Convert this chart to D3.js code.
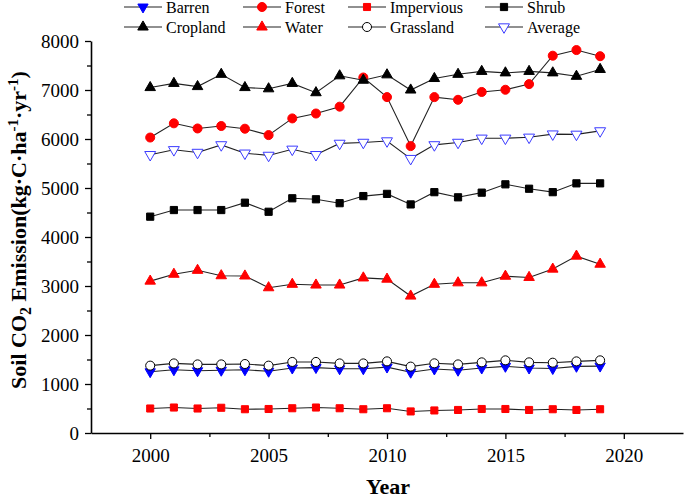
<!DOCTYPE html>
<html>
<head>
<meta charset="utf-8">
<script src="https://cdn.jsdelivr.net/npm/d3@7"></script>
<style>
  body { margin: 0; background: #fff; }
  svg text { font-family: "Liberation Serif", "Times New Roman", serif; }
</style>
</head>
<body>
<div id="container"></div>
<script>
// Data
const years = d3.range(2000, 2020);
const barren     = [1250, 1290, 1270, 1280, 1290, 1260, 1325, 1335, 1310, 1310, 1345, 1240, 1305, 1280, 1325, 1360, 1325, 1315, 1360, 1365];
const forest     = [6030, 6320, 6215, 6265, 6210, 6080, 6420, 6520, 6660, 7255, 6855, 5855, 6855, 6800, 6960, 7005, 7120, 7700, 7815, 7690];
const impervious = [500, 520, 500, 515, 485, 490, 505, 520, 505, 485, 505, 440, 460, 470, 490, 490, 470, 485, 470, 485];
const shrub      = [4415, 4550, 4550, 4550, 4700, 4515, 4790, 4770, 4690, 4835, 4880, 4665, 4915, 4810, 4905, 5075, 4985, 4915, 5095, 5095];
const cropland   = [7050, 7135, 7070, 7320, 7050, 7025, 7135, 6945, 7290, 7200, 7310, 7000, 7235, 7320, 7380, 7350, 7380, 7350, 7280, 7420];
const water      = [3100, 3240, 3320, 3210, 3205, 2965, 3035, 3020, 3020, 3165, 3140, 2795, 3035, 3065, 3065, 3200, 3175, 3345, 3610, 3445];
const grassland  = [1375, 1420, 1400, 1400, 1408, 1375, 1450, 1450, 1420, 1420, 1462, 1355, 1422, 1400, 1442, 1483, 1442, 1435, 1462, 1483];
const average    = [5680, 5780, 5725, 5880, 5710, 5665, 5790, 5680, 5910, 5930, 5960, 5600, 5880, 5930, 6015, 6015, 6035, 6100, 6095, 6165];

const seriesNames = ["Barren", "Forest", "Impervious", "Shrub", "Cropland", "Water", "Grassland", "Average"];
const seriesValues = [barren, forest, impervious, shrub, cropland, water, grassland, average];
const xTicks = [2000, 2005, 2010, 2015, 2020];
const yTicks = [0, 1000, 2000, 3000, 4000, 5000, 6000, 7000, 8000];

const FONT = "Liberation Serif, Times New Roman, serif";

// marker styles per series
const styles = {
    Barren:     { type: d3.symbolTriangle, rot: 180, fill: "#0000ff", stroke: "#0000ff", size: 46 },
    Forest:     { type: d3.symbolCircle, rot: 0, fill: "#ff0000", stroke: "#ff0000", size: 64 },
    Impervious: { type: d3.symbolSquare, rot: 0, fill: "#ff0000", stroke: "#ff0000", size: 50 },
    Shrub:      { type: d3.symbolSquare, rot: 0, fill: "#000000", stroke: "#000000", size: 52 },
    Cropland:   { type: d3.symbolTriangle, rot: 0, fill: "#000000", stroke: "#000000", size: 48 },
    Water:      { type: d3.symbolTriangle, rot: 0, fill: "#ff0000", stroke: "#ff0000", size: 48 },
    Grassland:  { type: d3.symbolCircle, rot: 0, fill: "#ffffff", stroke: "#000000", size: 64 },
    Average:    { type: d3.symbolTriangle, rot: 180, fill: "#ffffff", stroke: "#3b3bff", size: 52 }
};

const width = 685;
const height = 498;

const svg = d3.select("#container").append("svg")
    .attr("width", width)
    .attr("height", height)
    .attr("font-family", FONT);

const x = d3.scaleLinear().domain([1997.5, 2022.5]).range([91, 683]);
const y = d3.scaleLinear().domain([0, 8000]).range([433, 41]);

// minor ticks
svg.append("g")
    .attr("transform", "translate(91,0)")
    .call(d3.axisLeft(y).tickValues(d3.range(500, 8000, 1000)).tickSize(4).tickFormat(""))
    .call(g => g.select(".domain").remove())
    .selectAll("line").attr("stroke", "#000").attr("stroke-width", 1.3);

svg.append("g")
    .attr("transform", "translate(0,433)")
    .call(d3.axisBottom(x).tickValues([2002.5, 2007.5, 2012.5, 2017.5]).tickSize(4).tickFormat(""))
    .call(g => g.select(".domain").remove())
    .selectAll("line").attr("stroke", "#000").attr("stroke-width", 1.3);

// major axes
const yAxis = svg.append("g")
    .attr("transform", "translate(91,0)")
    .call(d3.axisLeft(y).tickValues(yTicks).tickFormat(d3.format("d")).tickSize(6).tickSizeOuter(0).tickPadding(6));

const xAxis = svg.append("g")
    .attr("transform", "translate(0,433)")
    .call(d3.axisBottom(x).tickValues(xTicks).tickFormat(d3.format("d")).tickSize(6).tickSizeOuter(0).tickPadding(10));

[yAxis, xAxis].forEach(a => {
    a.attr("font-family", FONT).attr("font-size", 19);
    a.select(".domain").attr("stroke", "#000").attr("stroke-width", 1.6);
    a.selectAll("line").attr("stroke", "#000").attr("stroke-width", 1.3);
    a.selectAll("text").attr("fill", "#000");
});

// axis titles
svg.append("text")
    .attr("transform", "translate(26,230) rotate(-90)")
    .attr("text-anchor", "middle")
    .attr("font-family", FONT)
    .attr("font-size", 22)
    .attr("font-weight", "bold")
    .html('Soil CO<tspan dy="5" font-size="16">2</tspan><tspan dy="-5"> Emission(kg·C·ha</tspan><tspan dy="-8" font-size="15">-1</tspan><tspan dy="8">·yr</tspan><tspan dy="-8" font-size="15">-1</tspan><tspan dy="8">)</tspan>');

svg.append("text")
    .attr("x", 388)
    .attr("y", 494)
    .attr("text-anchor", "middle")
    .attr("font-family", FONT)
    .attr("font-size", 22)
    .attr("font-weight", "bold")
    .text("Year");

const line = d3.line()
    .x((d, i) => x(years[i]))
    .y(d => y(d));

function symbolPath(name) {
    const s = styles[name];
    return d3.symbol().type(s.type).size(s.size)();
}

// series
seriesNames.forEach((name, k) => {
    const vals = seriesValues[k];
    const s = styles[name];
    const g = svg.append("g");
    g.append("path")
        .datum(vals)
        .attr("fill", "none")
        .attr("stroke", "#222")
        .attr("stroke-width", 1.1)
        .attr("d", line);
    g.selectAll("path.pt")
        .data(vals)
        .join("path")
        .attr("class", "pt")
        .attr("d", symbolPath(name))
        .attr("transform", (d, i) => `translate(${x(years[i])},${y(d)}) rotate(${s.rot})`)
        .attr("fill", s.fill)
        .attr("stroke", s.stroke)
        .attr("stroke-width", 1);
});

// legend
const legendCols = [124, 243, 348, 485];
const legendRows = [7, 27];
seriesNames.forEach((name, k) => {
    const s = styles[name];
    const lx = legendCols[k % 4];
    const ly = legendRows[Math.floor(k / 4)];
    const g = svg.append("g").attr("transform", `translate(${lx},${ly})`);
    g.append("line")
        .attr("x1", 0).attr("x2", 38)
        .attr("stroke", "#222").attr("stroke-width", 1.1);
    g.append("path")
        .attr("d", symbolPath(name))
        .attr("transform", `translate(19,0) rotate(${s.rot})`)
        .attr("fill", s.fill)
        .attr("stroke", s.stroke);
    g.append("text")
        .attr("x", 42)
        .attr("dy", "0.35em")
        .attr("font-family", FONT)
        .attr("font-size", 16)
        .text(name);
});
</script>
</body>
</html>
